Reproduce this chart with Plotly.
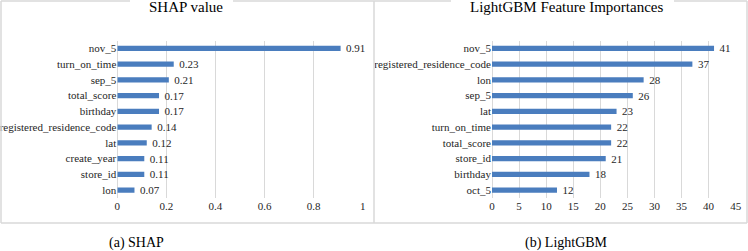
import plotly.graph_objects as go

W, H = 748, 251

shap_features = ["nov_5", "turn_on_time", "sep_5", "total_score", "birthday",
                 "registered_residence_code", "lat", "create_year", "store_id", "lon"]
shap_values = [0.91, 0.23, 0.21, 0.17, 0.17, 0.14, 0.12, 0.11, 0.11, 0.07]

lgb_features = ["nov_5", "registered_residence_code", "lon", "sep_5", "lat",
                "turn_on_time", "total_score", "store_id", "birthday", "oct_5"]
lgb_values = [41, 37, 28, 26, 23, 22, 22, 21, 18, 12]

shap_ticks = [0, 0.2, 0.4, 0.6, 0.8, 1]
shap_ticktext = ["0", "0.2", "0.4", "0.6", "0.8", "1"]
lgb_ticks = [0, 5, 10, 15, 20, 25, 30, 35, 40, 45]

BAR = "#4A7DBE"
GRID = "#D9D9D9"
FONT = "Liberation Serif"
TXT = "#262626"

def px(x):
    return x / W

def py(y):
    return 1 - y / H

fig = go.Figure()
fig.add_trace(go.Bar(
    x=shap_values, y=shap_features, orientation="h",
    marker=dict(color=BAR, line=dict(width=0)), width=0.32,
    text=["  %s" % v for v in shap_values], textposition="outside",
    constraintext="none",
    textfont=dict(family=FONT, size=11, color=TXT), cliponaxis=False,
    xaxis="x", yaxis="y", showlegend=False, hoverinfo="skip"))
fig.add_trace(go.Bar(
    x=lgb_values, y=lgb_features, orientation="h",
    marker=dict(color=BAR, line=dict(width=0)), width=0.32,
    text=["  %s" % v for v in lgb_values], textposition="outside",
    constraintext="none",
    textfont=dict(family=FONT, size=11, color=TXT), cliponaxis=False,
    xaxis="x2", yaxis="y2", showlegend=False, hoverinfo="skip"))

ydom = [py(198), py(40.5)]
common_x = dict(showgrid=True, gridcolor=GRID, gridwidth=1, zeroline=True,
                zerolinecolor=GRID, zerolinewidth=1, showline=False, ticks="",
                tickfont=dict(family=FONT, size=11, color=TXT), fixedrange=True,
                automargin=False)
common_y = dict(showgrid=False, zeroline=False, showline=False, ticks="",
                autorange="reversed", type="category",
                tickfont=dict(family=FONT, size=11, color=TXT),
                fixedrange=True, automargin=False)

fig.update_layout(
    width=W, height=H, margin=dict(l=0, r=0, t=0, b=0, pad=0, autoexpand=False),
    paper_bgcolor="white", plot_bgcolor="white",
    font=dict(family=FONT),
    xaxis=dict(domain=[px(117.3), px(362.7)], range=[0, 1], tickvals=shap_ticks,
               ticktext=shap_ticktext, anchor="y", **common_x),
    yaxis=dict(domain=ydom, anchor="x", categoryorder="array",
               categoryarray=shap_features, **common_y),
    xaxis2=dict(domain=[px(492), px(735.7)], range=[0, 45], tickvals=lgb_ticks,
                anchor="y2", **common_x),
    yaxis2=dict(domain=ydom, anchor="x2", categoryorder="array",
                categoryarray=lgb_features, **common_y),
)

# panel borders (with gaps behind titles)
BORDER = dict(color="#D9D9D9", width=1.5)
def seg(x0, y0, x1, y1):
    fig.add_shape(type="line", xref="paper", yref="paper",
                  x0=px(x0), y0=py(y0), x1=px(x1), y1=py(y1), line=BORDER)

# left box
seg(1, 1, 130, 1); seg(233, 1, 374, 1)
seg(1, 1, 1, 223); seg(374, 1, 374, 223); seg(1, 223, 374, 223)
# right box
seg(374, 1, 451, 1); seg(674, 1, 747, 1)
seg(747, 1, 747, 223); seg(374, 223, 747, 223)

def note(text, x, y, size):
    fig.add_annotation(text=text, xref="paper", yref="paper", x=px(x), y=py(y),
                       xanchor="center", yanchor="middle", showarrow=False,
                       font=dict(family=FONT, size=size, color="#000000"))

note("SHAP value", 186, 7.5, 15)
note("LightGBM Feature Importances", 566, 7.5, 15)
note("(a) SHAP", 136, 242.5, 14)
note("(b) LightGBM", 566, 242.5, 14)

fig.write_html("out.html",
               config={"displayModeBar": False, "staticPlot": True},
               post_script="document.body.style.margin='0';document.body.style.padding='0';")
